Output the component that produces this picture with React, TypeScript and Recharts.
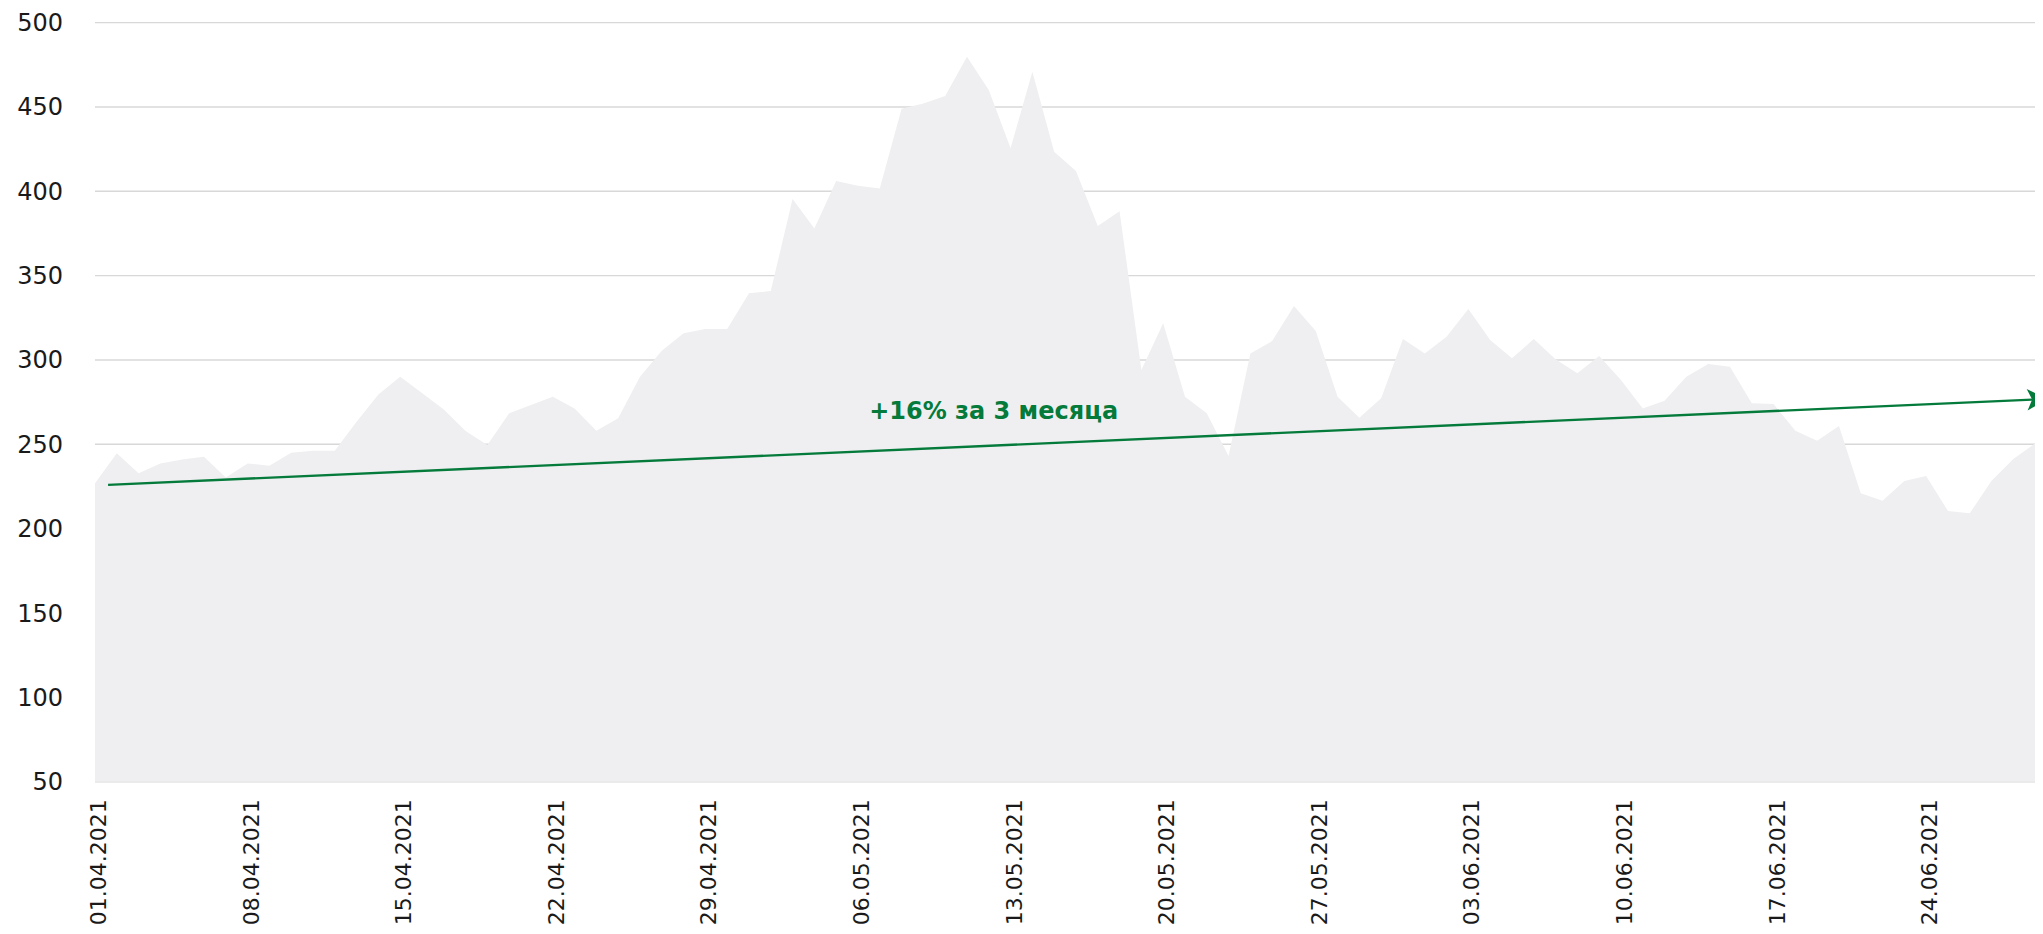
import React from 'react';
import { AreaChart, Area, XAxis, YAxis, CartesianGrid, ReferenceLine } from 'recharts';

// Daily values from 01.04.2021 (day 0) to 30.06.2021 (day 90)
const values: number[] = [
  226.9, 244.7, 232.8, 238.7, 241, 242.6, 230.4, 238.7, 237.3, 245,
  246.2, 246.2, 263.4, 279.6, 290.1, 280.4, 270.7, 257.9, 249.6, 268.4,
  273.3, 278.2, 271.3, 258.1, 265.4, 290.1, 305.5, 315.8, 318.3, 318.3,
  339.5, 340.9, 395.4, 378, 406.1, 403.3, 401.7, 448.9, 452.1, 456.5,
  479.8, 460, 425.5, 470.9, 423.4, 412, 379.4, 388.1, 294, 321.7,
  278.2, 268.4, 243.1, 303.9, 311.2, 332, 317.2, 278.2, 265.8, 277.3,
  312.4, 303.9, 313.8, 330.2, 311.8, 301, 312.4, 300.4, 292.1, 302.3,
  288.1, 271.3, 275.8, 290.1, 297.6, 296, 274.3, 273.9, 258.1, 252.1,
  260.8, 221, 216.6, 228.2, 231.2, 210.5, 209.1, 228.4, 241.3, 250.6,
  264,
];

const tickDays: number[] = [0, 7, 14, 21, 28, 35, 42, 49, 56, 63, 70, 77, 84];
const tickLabels: string[] = [
  '01.04.2021', '08.04.2021', '15.04.2021', '22.04.2021', '29.04.2021',
  '06.05.2021', '13.05.2021', '20.05.2021', '27.05.2021', '03.06.2021',
  '10.06.2021', '17.06.2021', '24.06.2021',
];
const yTicks: number[] = [50, 100, 150, 200, 250, 300, 350, 400, 450, 500];
const xVisibleMax = 89.36; // the visible window ends just before 30.06

const trendLabel = '+16% за 3 месяца';
const trendStart = { x: 0.6, y: 226 };
const trendEnd = { x: 89.55, y: 276.9 };

const data = values.map((v, i) => ({ day: i, value: v }));

const GREEN = '#047a3b';
const FONT = 'DejaVu Sans';

const XTick = (props: any) => {
  const { x, y, payload } = props;
  const idx = tickDays.indexOf(payload.value);
  return (
    <text
      x={x}
      y={y}
      dx={-17.6}
      dy={11}
      transform={`rotate(-90, ${x}, ${y})`}
      textAnchor="end"
      fontSize={22}
      fontFamily={FONT}
      fill="#1a1a1a"
    >
      {idx >= 0 ? tickLabels[idx] : ''}
    </text>
  );
};

const TrendArrow = (props: any) => {
  const { x1, y1, x2, y2 } = props;
  const dx = x2 - x1;
  const dy = y2 - y1;
  const len = Math.sqrt(dx * dx + dy * dy) || 1;
  const ux = dx / len;
  const uy = dy / len;
  const nx = -uy;
  const ny = ux;
  const L = 20;
  const W = 10.8;
  const bx = x2 - L * ux;
  const by = y2 - L * uy;
  const notchX = x2 - (L - 5) * ux;
  const notchY = y2 - (L - 5) * uy;
  const pts = [
    `${x2},${y2}`,
    `${bx + W * nx},${by + W * ny}`,
    `${notchX},${notchY}`,
    `${bx - W * nx},${by - W * ny}`,
  ].join(' ');
  const t = 0.4567;
  const tx = x1 + dx * t;
  const ty = y1 + dy * t - 27;
  return (
    <g>
      <line x1={x1} y1={y1} x2={notchX} y2={notchY} stroke={GREEN} strokeWidth={2.3} />
      <polygon points={pts} fill={GREEN} />
      <text
        x={tx}
        y={ty}
        textAnchor="middle"
        fontSize={24}
        fontWeight="bold"
        fontFamily={FONT}
        fill={GREEN}
      >
        {trendLabel}
      </text>
    </g>
  );
};

export default function App() {
  return (
    <div style={{ width: 2035, height: 918, overflow: 'hidden' }}>
      <AreaChart
        width={2035}
        height={918}
        data={data}
        margin={{ top: 14.6, right: 0, bottom: 0, left: 0 }}
      >
        <CartesianGrid vertical={false} stroke="#d8d8d8" strokeWidth={1.4} />
        <XAxis
          dataKey="day"
          type="number"
          domain={[0, xVisibleMax]}
          allowDataOverflow
          ticks={tickDays}
          interval={0}
          axisLine={false}
          tickLine={false}
          tickSize={0}
          tickMargin={0}
          height={144.3}
          tick={<XTick />}
        />
        <YAxis
          domain={[50, 500]}
          ticks={yTicks}
          interval={0}
          axisLine={false}
          tickLine={false}
          tickSize={0}
          tickMargin={32}
          width={87}
          tick={{ fontSize: 24, fill: '#1a1a1a', fontFamily: FONT }}
        />
        <Area
          type="linear"
          dataKey="value"
          stroke="none"
          fill="#efeff1"
          fillOpacity={1}
          isAnimationActive={false}
          dot={false}
          activeDot={false}
        />
        <ReferenceLine
          segment={[trendStart, trendEnd]}
          ifOverflow="visible"
          stroke={GREEN}
          shape={(p: any) => <TrendArrow {...p} />}
        />
      </AreaChart>
    </div>
  );
}
